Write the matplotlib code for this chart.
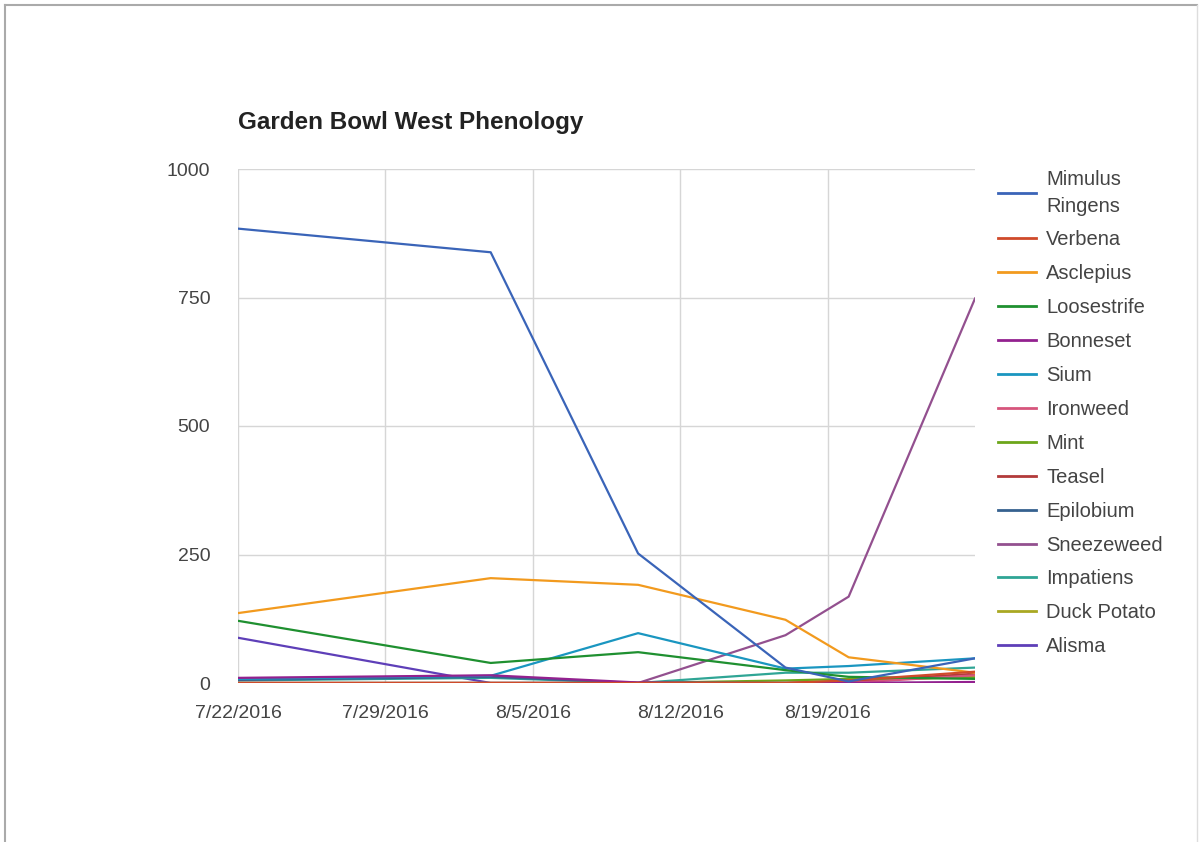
import matplotlib
matplotlib.use('Agg')
import matplotlib.pyplot as plt
from matplotlib.lines import Line2D
import numpy as np

plt.rcParams['font.family'] = ['Liberation Sans', 'DejaVu Sans']

dates = np.array(['2016-07-22', '2016-08-03', '2016-08-10', '2016-08-17',
                  '2016-08-20', '2016-08-26'], dtype='datetime64[D]')

species = ['Mimulus\nRingens', 'Verbena', 'Asclepius', 'Loosestrife', 'Bonneset',
           'Sium', 'Ironweed', 'Mint', 'Teasel', 'Epilobium', 'Sneezeweed',
           'Impatiens', 'Duck Potato', 'Alisma']

mimulus = [884, 838, 252, 30, 3, 48]
verbena = [0, 0, 0, 0, 5, 22]
asclepius = [136, 204, 191, 123, 50, 20]
loosestrife = [121, 39, 60, 25, 12, 8]
bonneset = [10, 15, 1, 0, 0, 2]
sium = [8, 14, 97, 28, 33, 48]
ironweed = [0, 0, 0, 0, 0, 15]
mint = [0, 0, 0, 5, 8, 10]
teasel = [0, 0, 0, 0, 3, 18]
epilobium = [6, 12, 0, 0, 0, 0]
sneezeweed = [0, 0, 0, 93, 168, 748]
impatiens = [5, 10, 0, 20, 20, 30]
duck_potato = [0, 0, 0, 0, 5, 12]
alisma = [88, 0, 0, 0, 0, 0]

series = [mimulus, verbena, asclepius, loosestrife, bonneset, sium, ironweed,
          mint, teasel, epilobium, sneezeweed, impatiens, duck_potato, alisma]

colors = ['#3a64b8', '#cf4a2a', '#f29a1e', '#1f9030', '#93218f', '#1a96c0',
          '#d6557c', '#6ca61a', '#b23a3a', '#36618f', '#93508f', '#2fa595',
          '#a9a822', '#5e3fb8']

fig = plt.figure(figsize=(12, 8.42), dpi=100)
ax = fig.add_axes([238/1200, 1 - 683/842, (975 - 238)/1200, (683 - 169)/842])

# draw in reverse so the first series is on top
for name, vals, c in reversed(list(zip(species, series, colors))):
    ax.plot(dates, vals, color=c, lw=1.6, label=name, solid_joinstyle='round')

ax.set_xlim(np.datetime64('2016-07-22'), np.datetime64('2016-08-26'))
ax.set_ylim(0, 1000)
ax.set_yticks([0, 250, 500, 750, 1000])
ticks = np.array(['2016-07-22', '2016-07-29', '2016-08-05', '2016-08-12',
                  '2016-08-19'], dtype='datetime64[D]')
ax.set_xticks(ticks)
ax.set_xticklabels(['7/22/2016', '7/29/2016', '8/5/2016', '8/12/2016', '8/19/2016'])

ax.grid(True, color='#d6d6d6', lw=1)
ax.set_axisbelow(True)
for s in ax.spines.values():
    s.set_visible(False)
ax.axhline(0, color='#555555', lw=1, zorder=0.5)
ax.tick_params(length=0, labelsize=14, colors='#444444')
ax.tick_params(axis='y', pad=20)
ax.tick_params(axis='x', pad=16)

fig.text(238/1200, 1 - 122/842, 'Garden Bowl West Phenology', fontsize=17.5,
         fontweight='bold', color='#222222', va='center', ha='left')

handles = [Line2D([], [], color=c, lw=2) for c in colors]
leg = fig.legend(handles, species, loc='upper left',
                 bbox_to_anchor=(988/1200, 1 - 160/842), frameon=False,
                 fontsize=14.5, labelcolor='#444444', handlelength=1.9,
                 handletextpad=0.5, labelspacing=0.74, borderpad=0)
for t in leg.get_texts():
    t.set_linespacing(1.5)

# page border
fig.add_artist(Line2D([5/1200, 1197/1200], [1 - 5/842, 1 - 5/842],
                      color='#aaaaaa', lw=1.5, transform=fig.transFigure))
fig.add_artist(Line2D([5/1200, 5/1200], [0, 1 - 5/842],
                      color='#aaaaaa', lw=1.5, transform=fig.transFigure))
fig.add_artist(Line2D([1197/1200, 1197/1200], [0, 1 - 5/842],
                      color='#dddddd', lw=1, transform=fig.transFigure))

fig.savefig('out.png', dpi=100)
